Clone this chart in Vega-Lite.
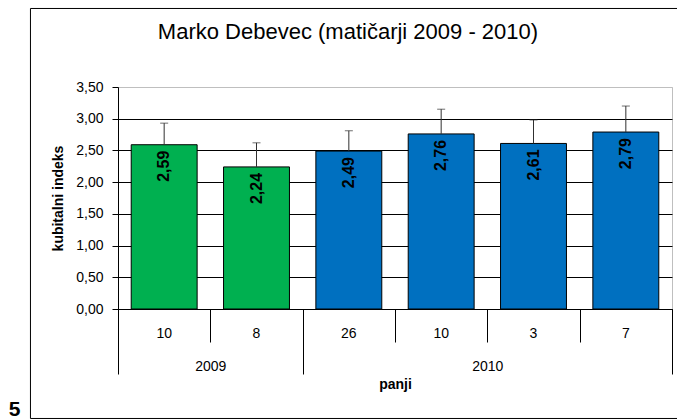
{
  "$schema": "https://vega.github.io/schema/vega-lite/v6.json",
  "width": 554,
  "height": 222,
  "autosize": {"type": "none"},
  "padding": {"left": 118, "top": 87, "right": 5, "bottom": 111},
  "background": "white",
  "config": {
    "font": "Liberation Sans",
    "locale": {"number": {"decimal": ",", "thousands": ".", "grouping": [3], "currency": ["", " €"]}},
    "view": {"stroke": "#bfbfbf", "strokeWidth": 1},
    "axis": {"labelColor": "#000", "titleColor": "#000", "labelFont": "Liberation Sans", "titleFont": "Liberation Sans", "labelFontSize": 14, "titleFontSize": 14}
  },
  "title": {"text": "Marko Debevec (matičarji 2009 - 2010)", "font": "Liberation Sans", "fontSize": 22, "fontWeight": "normal", "color": "#000", "anchor": "middle", "frame": "group", "dx": -47, "offset": -53, "baseline": "alphabetic"},
  "datasets": {
    "bars": [
      {"key": "2009-10", "year": "2009", "panji": 10, "value": 2.59, "err": 2.93},
      {"key": "2009-8", "year": "2009", "panji": 8, "value": 2.24, "err": 2.62},
      {"key": "2010-26", "year": "2010", "panji": 26, "value": 2.49, "err": 2.81},
      {"key": "2010-10", "year": "2010", "panji": 10, "value": 2.76, "err": 3.15},
      {"key": "2010-3", "year": "2010", "panji": 3, "value": 2.61, "err": 2.98},
      {"key": "2010-7", "year": "2010", "panji": 7, "value": 2.79, "err": 3.20}
    ]
  },
  "layer": [
    {
      "data": {"name": "bars"},
      "encoding": {
        "x": {"field": "key", "type": "nominal", "sort": null,
          "scale": {"paddingInner": 0.286, "paddingOuter": 0.143},
          "axis": {"title": null, "labelExpr": "split(datum.value, '-')[1]", "ticks": false, "tickSize": 0, "domain": true, "domainColor": "#000", "labelAngle": 0, "labelBaseline": "middle", "labelPadding": 24, "grid": false, "orient": "bottom", "offset": 0}
        },
        "y": {"field": "value", "type": "quantitative",
          "scale": {"domain": [0, 3.5], "nice": false, "zero": true},
          "axis": {"title": "kubitalni indeks", "titleFontWeight": "bold", "values": [0, 0.5, 1, 1.5, 2, 2.5, 3, 3.5], "format": ".2f", "labelOverlap": false, "tickSize": 6, "tickColor": "#000", "domainColor": "#000", "labelPadding": 9, "titlePadding": 10, "grid": true, "gridColor": {"condition": {"test": "datum.value >= 3.5", "value": "#bfbfbf"}, "value": "#000"}, "gridOpacity": 1}
        }
      },
      "layer": [
        {
          "mark": {"type": "bar", "stroke": "#000", "strokeWidth": 1},
          "encoding": {"color": {"field": "year", "type": "nominal", "scale": {"domain": ["2009", "2010"], "range": ["#00B050", "#0070C0"]}, "legend": null}}
        },
        {
          "mark": {"type": "rule", "color": "#303030", "strokeWidth": 1},
          "encoding": {"y2": {"field": "err"}}
        },
        {
          "mark": {"type": "tick", "color": "#303030", "size": 8, "thickness": 1},
          "encoding": {"y": {"field": "err", "type": "quantitative"}}
        },
        {
          "mark": {"type": "text", "angle": 270, "align": "right", "baseline": "middle", "dx": -6, "fontWeight": "bold", "fontSize": 16, "color": "#000"},
          "encoding": {"text": {"field": "value", "type": "quantitative", "format": ".2f"}}
        }
      ]
    },
    {
      "data": {"values": [{"p": 0}]},
      "mark": {"type": "rule", "opacity": 0},
      "encoding": {"x": {"field": "p", "type": "quantitative", "scale": {"domain": [0, 6], "nice": false, "zero": false},
        "axis": {"values": [0, 1, 2, 3, 4, 5, 6], "labels": false, "tickSize": 33, "tickColor": "#000", "domain": false, "grid": false, "title": null, "orient": "bottom", "offset": 0}}}
    },
    {
      "data": {"values": [{"p": 0}]},
      "mark": {"type": "rule", "opacity": 0},
      "encoding": {"x": {"field": "p", "type": "quantitative", "scale": {"domain": [0, 6], "nice": false, "zero": false},
        "axis": {"values": [0, 2, 6], "labels": false, "tickSize": 65, "tickColor": "#000", "domain": false, "grid": false, "title": null, "orient": "bottom", "offset": 0}}}
    },
    {
      "data": {"values": [{"p": 0}]},
      "mark": {"type": "rule", "opacity": 0},
      "encoding": {"x": {"field": "p", "type": "quantitative", "scale": {"domain": [0, 6], "nice": false, "zero": false},
        "axis": {"values": [1, 4], "labelExpr": "datum.value < 2 ? '2009' : '2010'", "ticks": false, "tickSize": 0, "labelBaseline": "middle", "labelPadding": 57, "labelFlush": false, "labelOverlap": false, "domain": false, "grid": false, "title": "panji", "titleFontWeight": "bold", "titleBaseline": "middle", "titleY": 75, "orient": "bottom", "offset": 0}}}
    },
    {
      "data": {"values": [{"p": 0}]},
      "mark": {"type": "rect", "filled": false, "stroke": "#000", "strokeWidth": 1},
      "encoding": {
        "x": {"datum": -0.948, "type": "quantitative", "scale": {"domain": [0, 6], "nice": false, "zero": false}, "axis": null},
        "x2": {"datum": 6.9},
        "y": {"datum": 4.738, "type": "quantitative", "scale": {"domain": [0, 3.5], "nice": false}, "axis": null},
        "y2": {"datum": -1.726}
      }
    },
    {
      "data": {"values": [{"p": 0}]},
      "mark": {"type": "text", "fontSize": 21, "fontWeight": "bold", "color": "#000", "align": "center", "baseline": "middle"},
      "encoding": {
        "x": {"datum": -1.12, "type": "quantitative", "scale": {"domain": [0, 6], "nice": false, "zero": false}, "axis": null},
        "y": {"datum": -1.6, "type": "quantitative", "scale": {"domain": [0, 3.5], "nice": false}, "axis": null},
        "text": {"value": "5"}
      }
    }
  ],
  "resolve": {"scale": {"x": "independent", "y": "independent"}, "axis": {"x": "independent", "y": "independent"}}
}
